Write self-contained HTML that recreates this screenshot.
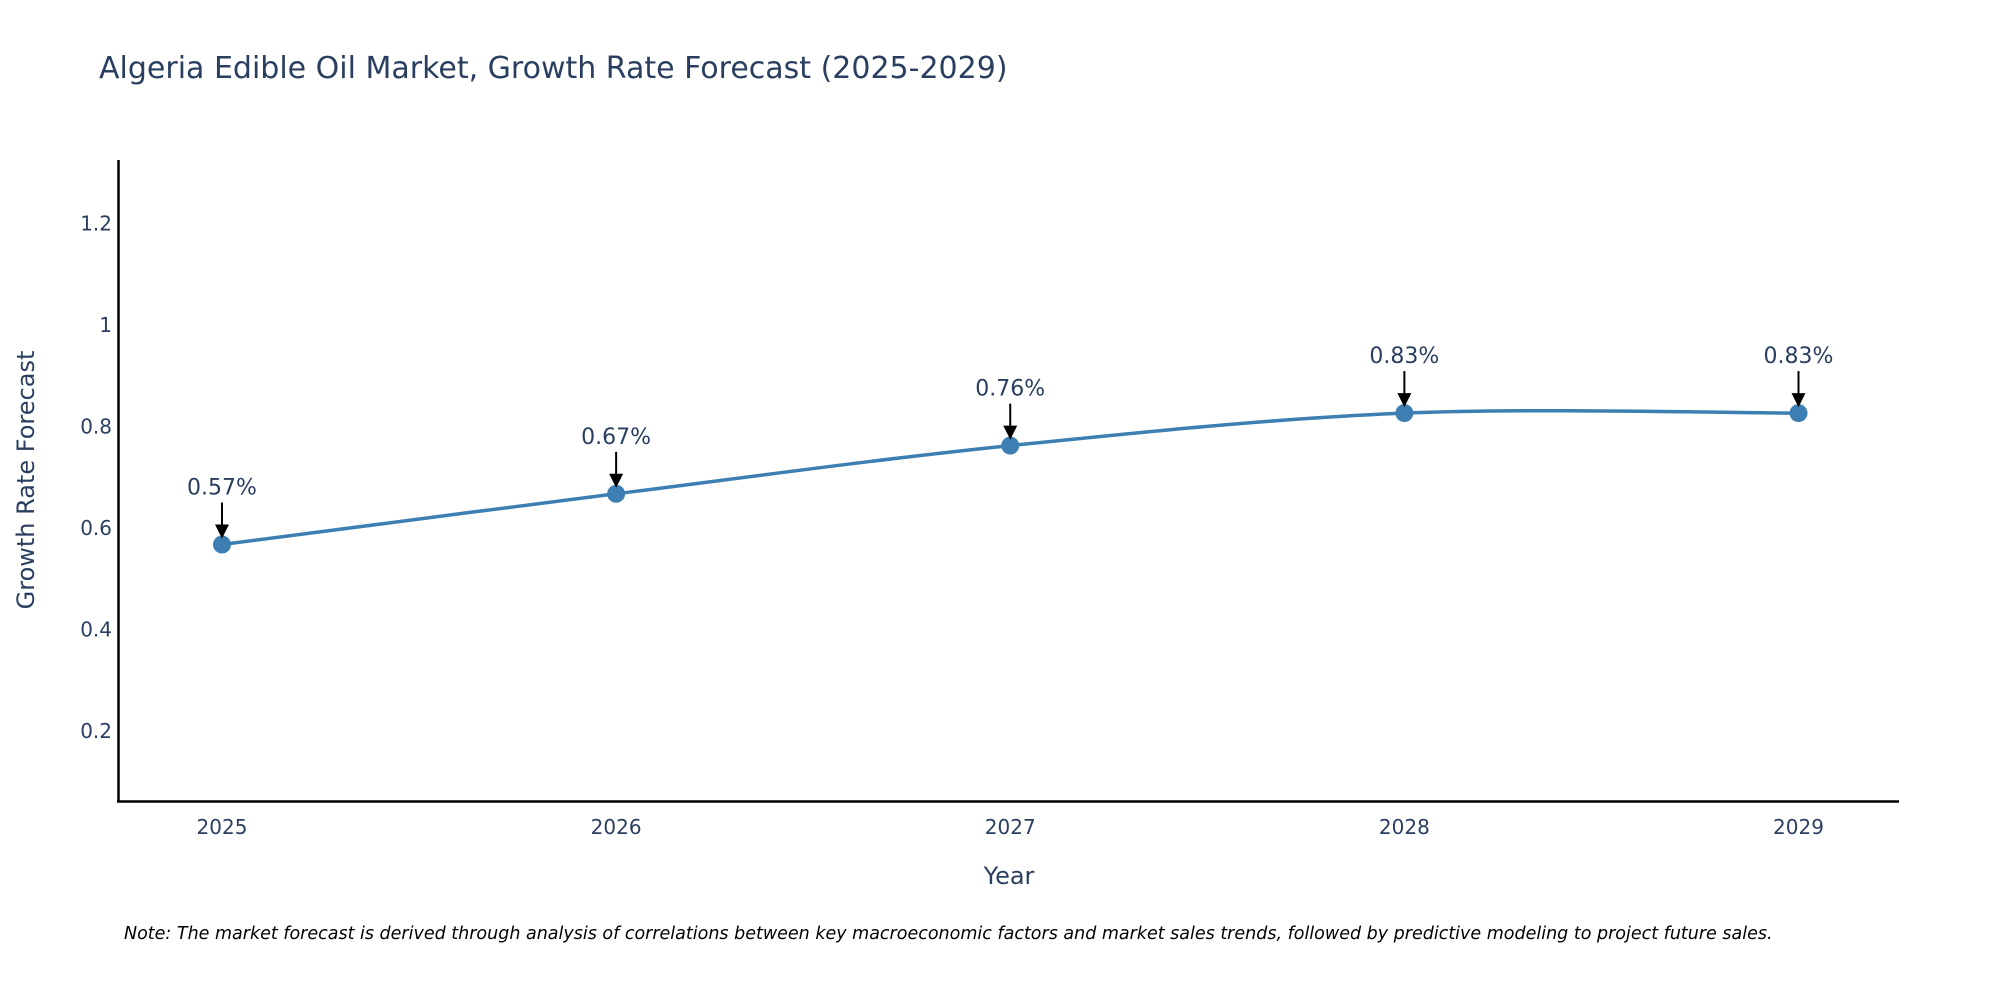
<!DOCTYPE html>
<html><head><meta charset="utf-8"><style>
body{margin:0;background:#fff;}
svg{display:block;font-family:"DejaVu Sans","Liberation Sans",sans-serif;}
</style></head><body>
<svg id="chart" width="2000" height="1000">
<text x="99" y="78" font-size="30" fill="#2a3f5f">Algeria Edible Oil Market, Growth Rate Forecast (2025-2029)</text>
<g id="yticks"></g>
<g id="xticks"></g>
<line x1="118.5" y1="160" x2="118.5" y2="802" stroke="#000" stroke-width="2.5"/>
<line x1="117" y1="801.5" x2="1899" y2="801.5" stroke="#000" stroke-width="2.5"/>
<text transform="translate(34,480) rotate(-90)" text-anchor="middle" font-size="24" fill="#2a3f5f">Growth Rate Forecast</text>
<text x="1009" y="884" text-anchor="middle" font-size="24" fill="#2a3f5f">Year</text>
<g id="series"></g>
<text x="124" y="939" font-size="17.5" font-style="italic" fill="#000">Note: The market forecast is derived through analysis of correlations between key macroeconomic factors and market sales trends, followed by predictive modeling to project future sales.</text>
</svg>
<script>
const years=[2025,2026,2027,2028,2029];
const values=[0.567,0.667,0.762,0.826,0.826];
const labels=["0.57%","0.67%","0.76%","0.83%","0.83%"];
const yTickVals=[0.2,0.4,0.6,0.8,1,1.2];
const yTickLabels=["0.2","0.4","0.6","0.8","1","1.2"];
const NS="http://www.w3.org/2000/svg";
function X(v){return 222+(v-2025)*(1798.5-222)/4;}
function Y(v){return 832.3-v*507.5;}
function mk(t,a,p){const e=document.createElementNS(NS,t);for(const k in a)e.setAttribute(k,a[k]);p.appendChild(e);return e;}
const yt=document.getElementById('yticks');
yTickVals.forEach((v,i)=>{const t=mk('text',{x:112,y:Y(v)+7,'text-anchor':'end','font-size':20,fill:'#2a3f5f'},yt);t.textContent=yTickLabels[i];

});
const xt=document.getElementById('xticks');
years.forEach(y=>{const t=mk('text',{x:X(y),y:834,'text-anchor':'middle','font-size':20,fill:'#2a3f5f'},xt);t.textContent=y;

});
const g=document.getElementById('series');
const pts=years.map((y,i)=>[X(y),Y(values[i])]);
let d=`M${pts[0][0]},${pts[0][1]}`;
for(let i=0;i<pts.length-1;i++){const p0=pts[Math.max(0,i-1)],p1=pts[i],p2=pts[i+1],p3=pts[Math.min(pts.length-1,i+2)];const s=6;
d+=` C${p1[0]+(p2[0]-p0[0])/s},${p1[1]+(p2[1]-p0[1])/s} ${p2[0]-(p3[0]-p1[0])/s},${p2[1]-(p3[1]-p1[1])/s} ${p2[0]},${p2[1]}`;}
const path=mk('path',{d:d,fill:'none',stroke:'#3d7fb2','stroke-width':3.5},g);


pts.forEach((p,i)=>{const c=mk('circle',{cx:p[0],cy:p[1],r:9,fill:'#3d7fb2'},g);


const a=mk('line',{x1:p[0],y1:p[1]-42,x2:p[0],y2:p[1]-18,stroke:'#000','stroke-width':2},g);


const h=mk('path',{d:`M${p[0]-7},${p[1]-20} L${p[0]+7},${p[1]-20} L${p[0]},${p[1]-6} Z`,fill:'#000'},g);


const t=mk('text',{x:p[0],y:p[1]-50,'text-anchor':'middle','font-size':22,fill:'#2a3f5f'},g);t.textContent=labels[i];

});
</script>
</body></html>
